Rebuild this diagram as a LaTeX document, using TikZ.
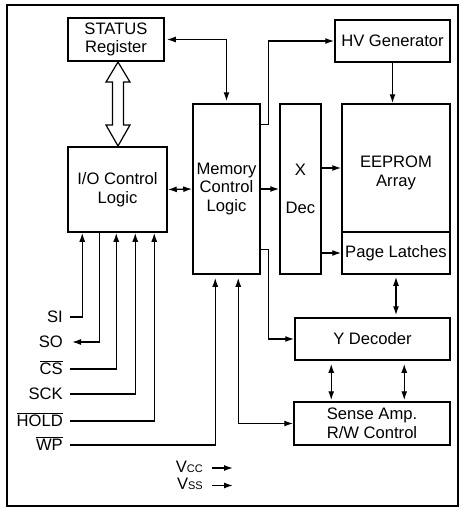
\documentclass[tikz,border=0pt]{standalone}
\usepackage{fontspec}
\setmainfont{Liberation Sans}
\usetikzlibrary{arrows.meta,calc}
\begin{document}
\begin{tikzpicture}[x=1pt,y=-1pt,
  box/.style={draw, line width=1.5pt, inner sep=0pt, align=center, font=\fontsize{16.6}{18.5}\selectfont},
  conn/.style={line width=1.4pt},
  >={Latex[length=9pt,width=6pt]},
  lbl/.style={anchor=base east, inner sep=0pt, font=\fontsize{16.6}{18}\selectfont},
  txt/.style={inner sep=0pt, align=center, font=\fontsize{16.6}{18.5}\selectfont}]
\useasboundingbox (0,0) rectangle (466,512);
\draw[line width=1.6pt] (7,5) rectangle (458,506);
% boxes
\node[box, minimum width=96pt, minimum height=43pt] (status) at (116,39.5) {STATUS\\Register};
\node[box, minimum width=99pt, minimum height=85pt] (io) at (117.5,189.5) {I/O Control\\Logic};
\node[box, minimum width=67pt, minimum height=170pt] (mem) at (226.5,189) {Memory\\Control\\Logic};
\node[box, minimum width=41pt, minimum height=170pt] (xdec) at (300.5,189) {X\\[19.5pt]Dec};
\node[box, minimum width=108pt, minimum height=128pt] (eeprom) at (396,168) {};
\node[txt] (eetext) at (396,173) {EEPROM\\Array};
\node[box, minimum width=108pt, minimum height=42pt] (pl) at (396,253) {Page Latches};
\node[box, minimum width=115pt, minimum height=42pt] (hv) at (392.5,41) {HV Generator};
\node[box, minimum width=155pt, minimum height=42pt] (ydec) at (372.5,339) {Y Decoder};
\node[box, minimum width=156pt, minimum height=43pt] (sense) at (372,423.5) {Sense Amp.\\R/W Control};
% hollow double arrow STATUS <-> I/O
\draw[line width=1.2pt, fill=white] (118,62) -- (130,82) -- (123.5,82) -- (123.5,125) -- (130,125) -- (118,146)
  -- (106,125) -- (112.5,125) -- (112.5,82) -- (106,82) -- cycle;
% connectors
\draw[conn,<->,shorten <=2pt,shorten >=2pt] (status.east) -| (mem.north);
\draw[conn,<->] (io.east) -- (mem.west);
\draw[conn,->] ([yshift=-21pt]mem.north east) -- ++(8,0) |- (hv.west);
\draw[conn,->] (mem.east) -- (xdec.west);
\draw[conn,->] ([yshift=25pt]mem.south east) -- ++(8,0) |- (ydec.west);
\draw[conn,->] (xdec.east |- eeprom.west) -- (eeprom.west);
\draw[conn,->] (xdec.east |- pl.west) -- (pl.west);
\draw[conn,->] (hv.south) -- (hv.south |- eeprom.north);
\draw[conn,<->,shorten <=2pt,shorten >=2pt] (pl.south) -- (pl.south |- ydec.north);
\draw[conn,<->,shorten <=3pt,shorten >=1pt] ($(ydec.south west)+(37,0)$) -- ($(sense.north west)+(38,0)$);
\draw[conn,<->,shorten <=3pt,shorten >=1pt] ($(ydec.south west)+(110,0)$) -- ($(sense.north west)+(111,0)$);
\draw[conn,<->,shorten <=3pt] ([xshift=46pt]mem.south west) |- (sense.west);
% pin labels
\node[lbl] (si) at (63,322.5) {SI};
\node[lbl] (so) at (63,347.5) {SO};
\node[lbl] (cs) at (63,374.5) {$\overline{\hbox{CS}}$};
\node[lbl] (sck) at (63,399.5) {SCK};
\node[lbl] (hold) at (63,426.5) {$\overline{\hbox{HOLD}}$};
\node[lbl] (wp) at (63,450.5) {$\overline{\hbox{WP}}$};
\draw[conn,->] ($(si.base east)+(7,-5.5)$) -| ([xshift=15pt]io.south west);
\draw[conn,->] ([xshift=32pt]io.south west) |- ($(so.base east)+(9,-5.5)$);
\draw[conn,->] ($(cs.base east)+(7,-5.5)$) -| ([xshift=49pt]io.south west);
\draw[conn,->] ($(sck.base east)+(7,-5.5)$) -| ([xshift=68pt]io.south west);
\draw[conn,->] ($(hold.base east)+(7,-5.5)$) -| ([xshift=87pt]io.south west);
\draw[conn,->,shorten >=3pt] ($(wp.base east)+(7,-5.5)$) -| ([xshift=23pt]mem.south west);
% supply labels
\node[lbl] (vcc) at (203,472.5) {V{\fontsize{11}{12}\selectfont CC}};
\node[lbl] (vss) at (203,489.5) {V{\fontsize{11}{12}\selectfont SS}};
\draw[conn,->] ($(vcc.base east)+(9,-4.5)$) -- ($(vcc.base east)+(30,-4.5)$);
\draw[conn,->] ($(vss.base east)+(9,-4)$) -- ($(vss.base east)+(30,-4)$);
\end{tikzpicture}
\end{document}
